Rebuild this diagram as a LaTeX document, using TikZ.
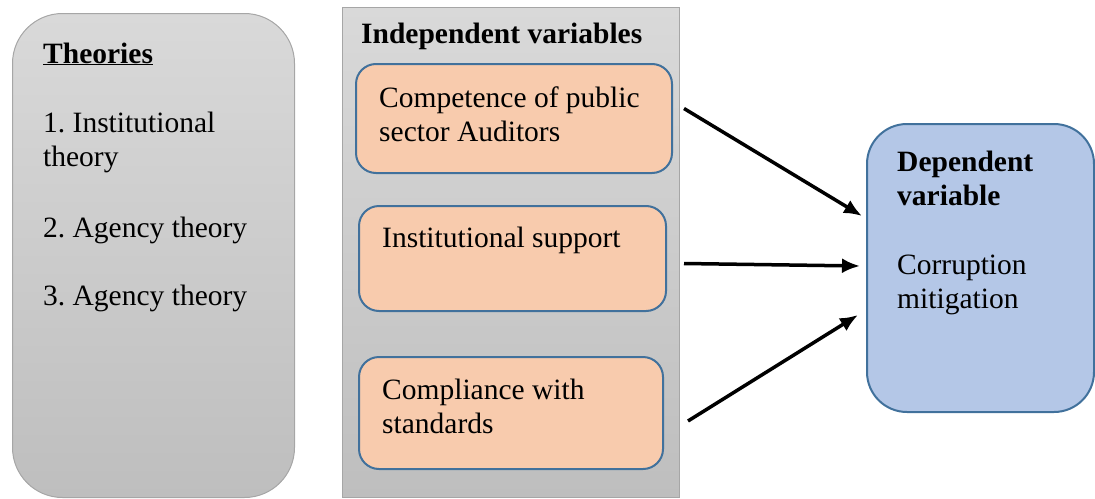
\documentclass[tikz,border=0pt]{standalone}
\usepackage{fontspec}
\setmainfont{Liberation Serif}
\usetikzlibrary{positioning,arrows.meta}
\frenchspacing

\definecolor{greytop}{HTML}{D9D9D9}
\definecolor{greybot}{HTML}{BEBEBE}
\definecolor{greyedge}{HTML}{A6A6A6}
\definecolor{varfill}{HTML}{F8CBAD}
\definecolor{varedge}{HTML}{41719C}
\definecolor{depfill}{HTML}{B4C7E7}

\tikzset{
  panel/.style={draw=greyedge, line width=1pt, top color=greytop, bottom color=greybot,
    inner sep=0pt, anchor=north west},
  varbox/.style={draw=varedge, line width=2pt, fill=varfill, rounded corners=20pt,
    inner sep=0pt, anchor=north west},
  txt/.style={anchor=base west, inner sep=0pt, align=left,
    font=\fontsize{29.5}{34}\selectfont},
  arr/.style={-{Latex[length=18pt,width=15pt]}, line width=3.5pt},
}

\begin{document}
\begin{tikzpicture}[x=1pt,y=-1pt]
  \useasboundingbox (0,0) rectangle (1095,498);

  % theories panel (base anchor sits on the last line)
  \node[panel, rounded corners=50pt, minimum width=282pt, minimum height=484pt] (theories) at (12,13) {};
  \node[txt] (theotitle) at (43,63) {\underline{\textbf{Theories}}};
  \node[txt] (theoone)   at (43,166) {1. Institutional\\theory};
  \node[txt] (theotwo)   at (43,237) {2. Agency theory};
  \node[txt] (theothree) at (43,305) {3. Agency theory};

  % independent variables
  \node[panel, minimum width=337pt, minimum height=490pt] (indep) at (342,7) {};
  \node[txt] (indeptitle) at (361,43) {\textbf{Independent variables}};
  \node[varbox, minimum width=316pt, minimum height=109pt] (comp)  at (355,63) {};
  \node[varbox, minimum width=307pt, minimum height=105pt] (supp)  at (358,205) {};
  \node[varbox, minimum width=304pt, minimum height=112pt] (compl) at (358,356) {};
  \node[txt] (comptext)  at (379,141) {Competence of public\\sector Auditors};
  \node[txt] (supptext)  at (382,247) {Institutional support};
  \node[txt] (compltext) at (382,433) {Compliance with\\standards};

  % dependent variable
  \node[draw=varedge, line width=2pt, fill=depfill, rounded corners=40pt, inner sep=0pt,
    anchor=north west, minimum width=227pt, minimum height=288pt] (dep) at (866,123) {};
  \node[txt] (deptitle) at (897,205) {\textbf{Dependent}\\\textbf{variable}};
  \node[txt] (deptext)  at (897,308) {Corruption\\mitigation};

  \draw[arr] ([xshift=11pt,yshift=10pt]comp.east) -- ([xshift=-4pt,yshift=52pt]dep.west);
  \draw[arr] ([xshift=17pt,yshift=-5pt]supp.east) -- ([xshift=-6pt,yshift=2pt]dep.west);
  \draw[arr] ([xshift=24pt,yshift=-8pt]compl.east) -- ([xshift=-8pt,yshift=-47pt]dep.west);
\end{tikzpicture}
\end{document}
